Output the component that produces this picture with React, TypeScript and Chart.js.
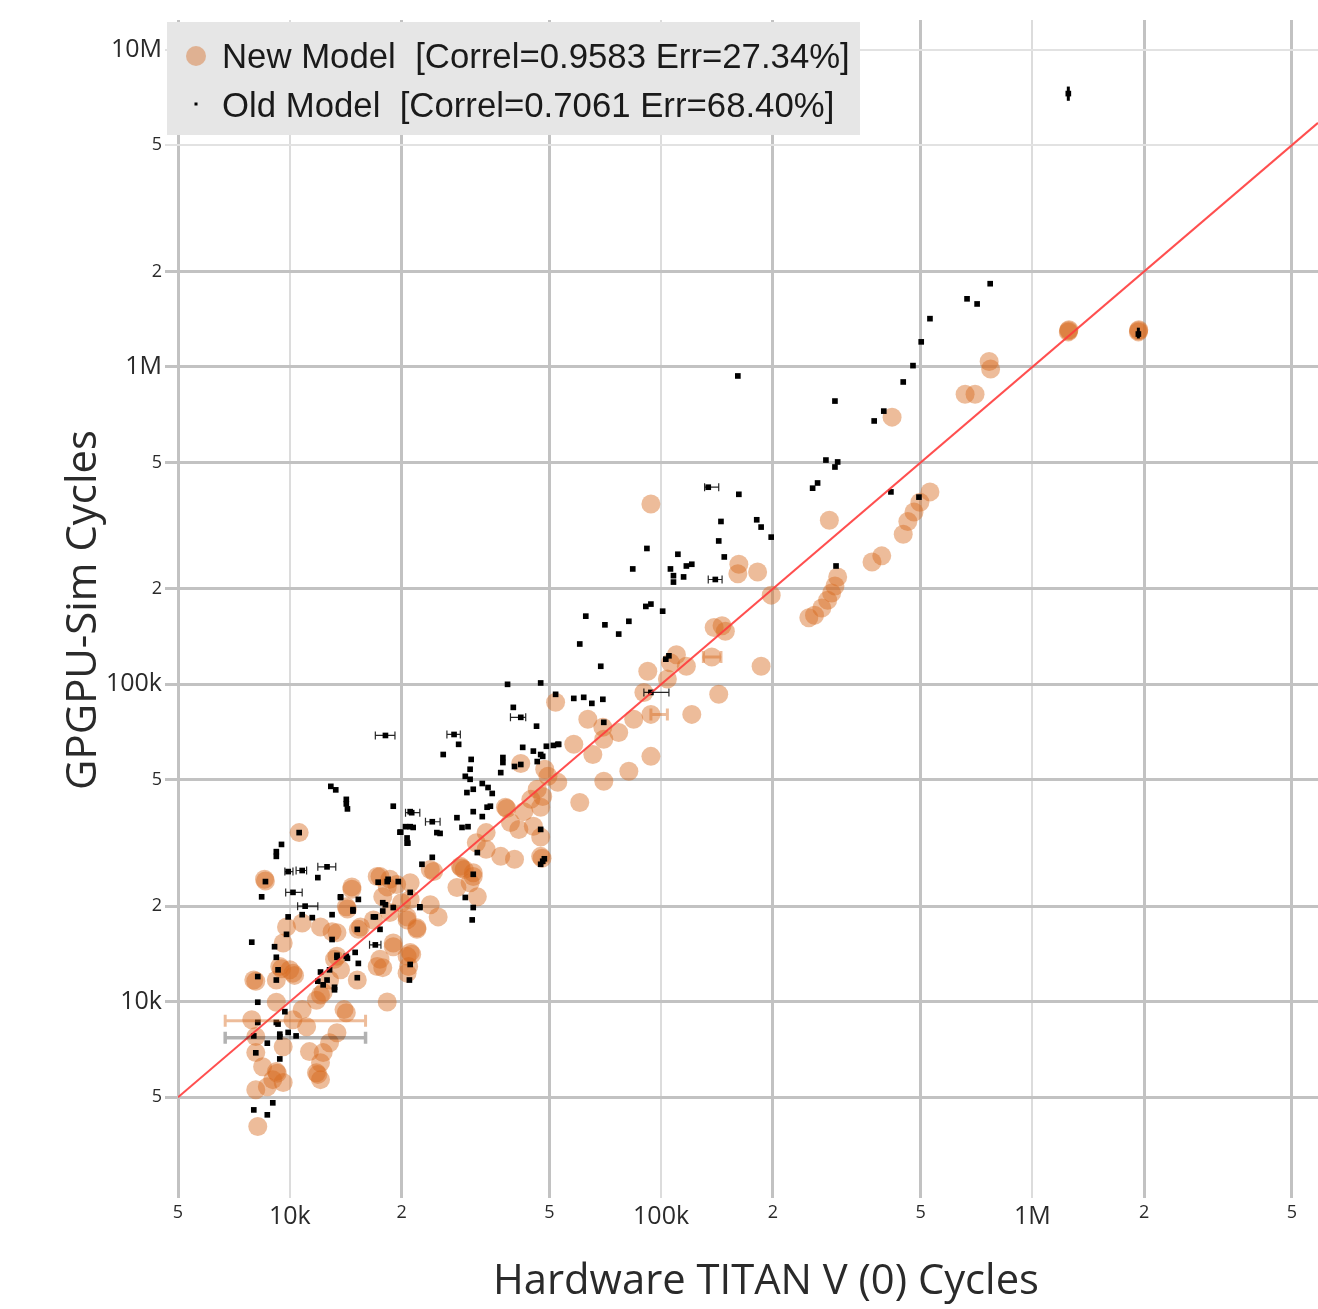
import React, { useEffect, useRef } from 'react';
import { Chart, registerables } from 'chart.js';
Chart.register(...registerables);

// ---- data (values in thousands of cycles) ----
// New model: hardware cycles (x) and simulated cycles (y)
const newHw = [
  1250, 1255, 1252, 1930, 1935, 1932, 765, 772, 659, 701, 419,
  530, 498, 480, 462, 449, 393, 370, 284,
  299, 294, 288, 281, 271, 259, 250, 198,
  162, 161, 182, 139, 146, 149, 137, 186, 143, 121, 93.9,
  92.1, 106, 110, 117, 104, 89.9, 93.9, 52.0, 63.5, 69.7, 70.1, 76.9, 84.4, 58.2, 65.5, 93.9, 81.9, 70.1, 60.4,
  41.9, 48.6, 49.6, 52.7, 46.4, 48.0, 44.6, 38.1, 38.4, 42.7, 47.4, 39.3, 41.4, 45.3, 47.4, 33.8, 31.8, 33.8, 37.0, 40.3, 47.4, 47.8,
  28.8, 29.0, 31.2, 23.9, 29.5, 31.2, 30.6, 28.2, 32.0,
  17.5, 18.6, 19.4, 14.7, 14.2, 14.3, 17.8, 21.1, 20.0, 23.9, 25.1, 20.7, 22.0, 15.5, 13.4, 19.0, 21.1, 21.3, 17.5, 17.8, 20.9, 15.2, 20.7, 13.4, 18.3, 14.0,
  10.6, 8.55, 8.6, 14.7, 17.2, 18.3, 21.1, 24.4, 13.0, 12.1, 10.8, 9.8, 9.6, 15.3, 16.8, 18.6, 20.7, 22.0, 20.7, 19.0, 17.2, 13.2, 13.7, 12.8, 12.3, 9.4, 9.5, 10.2, 10.3, 9.2, 10.0, 8.0, 8.1,
  9.2, 7.9, 10.2, 10.8, 11.8, 12.1, 14.2, 11.1, 13.4, 12.8, 12.3, 12.1, 11.8, 11.9, 12.1, 11.3, 8.1, 9.6, 8.1, 8.45, 9.2, 9.25, 9.0, 9.6, 8.1, 8.7, 8.2,
];
const newSim = [
  1290, 1310, 1300, 1290, 1310, 1300, 1040, 985, 820, 820, 695,
  404, 375, 349, 326, 297, 254, 243, 329,
  218, 204, 194, 184, 174, 165, 162, 191,
  239, 223, 226, 151, 153, 147, 122, 114, 93, 80.4, 370,
  110, 117, 124, 114, 104, 94.3, 80.4, 87.8, 77.6, 73.2, 67.1, 70.5, 77.6, 64.7, 60.1, 59.3, 53.2, 49.5, 42.4,
  56.3, 54.0, 51.3, 49.1, 46.7, 44.3, 43.4, 41.0, 40.6, 39.7, 41.0, 36.7, 34.9, 35.7, 33.0, 34.1, 31.7, 30.2, 28.7, 28.1, 28.7, 28.3,
  26.7, 26.4, 25.5, 26.1, 26.1, 24.8, 23.7, 22.9, 21.4,
  24.8, 24.3, 23.4, 23.0, 19.9, 19.6, 21.4, 21.0, 20.5, 20.2, 18.5, 18.1, 17.1, 17.2, 16.5, 15.3, 14.3, 14.1, 13.6, 12.8, 12.9, 11.7, 12.3, 13.9, 9.98, 9.44,
  34.1, 24.3, 24.0, 22.6, 24.8, 23.0, 23.7, 25.7, 16.6, 17.2, 17.7, 17.2, 15.3, 16.9, 18.1, 19.1, 18.5, 16.9, 13.9, 14.9, 12.9, 13.6, 12.6, 11.7, 10.7, 12.9, 12.7, 12.3, 12.1, 11.7, 12.6, 11.7, 11.6,
  9.96, 8.77, 8.77, 9.44, 10.1, 10.5, 9.23, 8.34, 7.98, 7.42, 6.91, 6.42, 5.97, 5.9, 5.68, 6.96, 7.76, 7.21, 6.91, 6.24, 6.02, 5.95, 5.68, 5.56, 5.28, 5.39, 4.04,
];

// Old model: hardware cycles (x) and simulated cycles (y)
const oldHw = [
  1250, 1930, 770, 667, 710, 530, 502, 477, 449, 398, 375, 161, 294,
  278, 294, 299, 256, 264, 416, 495, 296, 134, 162, 145, 181, 186, 198, 143,
  91.6, 111, 117, 121, 148, 106, 108, 108, 115, 83.9, 140, 91.0, 93.9, 101,
  62.7, 70.6, 81.9, 76.9, 60.4, 68.8, 103, 105, 47.4, 52.0, 58.2, 61.9, 65.1, 69.7, 93.9, 70.1, 53.0, 51.3, 47.4,
  38.6, 40.0, 41.9, 46.2, 27.7, 28.5, 25.9, 30.8, 30.6, 29.7, 30.6, 37.5, 37.5, 40.3, 41.9, 42.4, 45.3, 46.4, 48.0, 49.1, 52.7,
  37.0, 33.0, 34.2, 35.1, 30.0, 31.2, 34.0, 34.7, 31.2, 33.0, 21.3, 24.2, 25.4, 28.2, 29.1, 30.2, 20.5, 21.1, 21.5, 20.7, 19.8, 32.0, 47.4, 48.0, 47.4, 48.5, 31.2, 22.7, 24.2,
  29.7, 31.2, 31.0, 17.3, 18.3, 19.6, 21.1, 13.7, 15.3, 14.8, 18.1, 19.0, 17.8, 17.0, 17.5, 22.4, 17.0, 13.0, 13.0, 15.0, 14.3, 13.4, 12.8, 13.2, 21.1, 21.0,
  19.0, 21.1, 19.9, 20.7, 20.8, 10.6, 9.5, 9.2, 9.2, 9.9, 10.8, 12.6, 11.9, 8.6, 8.4, 10.2, 11.0, 13.7, 14.8,
  9.9, 10.8, 11.5, 7.9, 9.1, 9.8, 13.4, 15.2, 14.2, 15.3, 15.2, 17.8, 16.8, 18.4, 22.4, 24.9, 9.2, 9.3, 9.2, 8.2,
  12.1, 11.9, 12.3, 12.6, 13.2, 8.2, 9.7, 9.2, 9.3, 8.2, 9.9, 10.4, 9.4, 9.4, 8.0, 8.7, 8.1, 9.4, 9.0, 8.0, 8.7,
  12.9, 13.3, 14.2, 14.3, 18.1, 14.2,
];
const oldSim = [
  7270, 1270, 1830, 1640, 1580, 1420, 1200, 1010, 897, 726, 676, 937, 781,
  509, 484, 502, 415, 431, 404, 389, 236, 418, 397, 326, 330, 313, 291, 283,
  268, 257, 236, 239, 252, 231, 220, 210, 218, 231, 214, 176, 179, 170,
  164, 154, 158, 144, 134, 114, 120, 123, 101, 93.0, 90.3, 91.0, 87.1, 89.7, 94.3, 75.9, 64.7, 64.2, 60.1,
  100, 84.6, 78.7, 73.8, 69.5, 64.7, 60.1, 58.0, 54.0, 51.3, 50.2, 58.8, 56.7, 55.1, 55.9, 63.3, 61.6, 57.1, 59.3, 63.8, 64.7,
  52.7, 48.7, 47.3, 45.3, 45.6, 46.7, 41.0, 41.3, 39.7, 38.3, 39.4, 36.9, 33.9, 38.0, 35.4, 35.6, 35.6, 35.6, 35.4, 31.6, 34.2, 29.5, 34.9, 27.7, 27.1, 28.2, 25.2, 27.1, 28.5,
  21.3, 19.8, 18.1, 23.8, 23.9, 23.9, 22.1, 21.4, 21.0, 19.5, 20.2, 19.8, 19.3, 18.5, 16.9, 19.8, 15.1, 18.8, 15.7, 14.3, 13.7, 13.8, 12.6, 10.9, 13.1, 11.7,
  41.3, 39.7, 34.2, 32.8, 31.6, 34.1, 31.3, 29.7, 28.7, 25.7, 25.9, 26.6, 24.6, 23.9, 21.4, 22.1, 20.0, 21.3, 19.3,
  18.5, 18.8, 18.4, 15.4, 14.9, 16.3, 14.0, 16.9, 13.9, 13.2, 11.9, 20.5, 18.5, 24.3, 19.9, 34.1, 13.8, 12.6, 11.7, 12.0,
  12.4, 11.6, 11.3, 11.7, 11.1, 9.96, 9.3, 8.6, 8.5, 8.6, 8.0, 7.8, 7.9, 7.75, 7.8, 7.4, 6.9, 6.6, 4.8, 4.56, 4.4,
  47.7, 46.5, 43.4, 40.5, 69.0, 42.0,
];

// Horizontal error bars [y, xLow, xHigh] (thousands)
const oldErrBars = [
  [418, 131, 143], [69.0, 17.0, 19.2], [69.5, 26.5, 28.8], [78.7, 39.3, 43.2], [214, 134, 146],
  [94.3, 89.9, 105], [36.9, 23.2, 25.4], [39.4, 20.5, 22.4], [26.6, 11.9, 13.3], [25.7, 9.7, 10.2],
  [25.9, 10.4, 11.1], [22.1, 9.75, 10.8], [20.0, 10.5, 11.9], [15.1, 16.4, 17.6],
];
// Vertical error bars [x, yLow, yHigh] (thousands)
const oldVertBars = [[1250, 6900, 7650], [1930, 1230, 1330]];
const oldWideBars = [[7.7, 6.7, 16.0]];
const newErrBars = [[80.4, 93.9, 104], [122, 130, 145], [8.7, 6.7, 16.0]];

const refLine = [5000, 5.88e6];
const xRange = [5000, 5.88e6];
const yRange = [2550, 12.4e6];
const xTicks = [5e3, 1e4, 2e4, 5e4, 1e5, 2e5, 5e5, 1e6, 2e6, 5e6];
const xTickLabels = ['5', '10k', '2', '5', '100k', '2', '5', '1M', '2', '5'];
const yTicks = [5e3, 1e4, 2e4, 5e4, 1e5, 2e5, 5e5, 1e6, 2e6, 5e6, 1e7];
const yTickLabels = ['5', '10k', '2', '5', '100k', '2', '5', '1M', '2', '5', '10M'];

const legendLabels = ['New Model  [Correl=0.9583 Err=27.34%]', 'Old Model  [Correl=0.7061 Err=68.40%]'];
const xTitle = 'Hardware TITAN V (0) Cycles';
const yTitle = 'GPGPU-Sim Cycles';

const ORANGE = 'rgba(214,106,30,0.45)';
const TICKFONT = '"Open Sans", "Noto Sans", sans-serif';

function pts(xs: number[], ys: number[]) {
  const n = Math.min(xs.length, ys.length);
  const out: { x: number; y: number }[] = [];
  for (let i = 0; i < n; i++) out.push({ x: xs[i] * 1000, y: ys[i] * 1000 });
  return out;
}

function fit(ctx: CanvasRenderingContext2D, text: string, family: string, width: number) {
  ctx.font = `40px ${family}`;
  const w = ctx.measureText(text).width;
  return (40 * width) / w;
}

const overlay = {
  id: 'overlay',
  afterDatasetsDraw(chart: any) {
    const { ctx, scales } = chart;
    const xs = scales.x, ys = scales.y;
    ctx.save();
    const bar = (b: number[], color: string, lw: number, cap: number) => {
      const y = ys.getPixelForValue(b[0] * 1000);
      const x1 = xs.getPixelForValue(b[1] * 1000);
      const x2 = xs.getPixelForValue(b[2] * 1000);
      ctx.strokeStyle = color;
      ctx.lineWidth = lw;
      ctx.beginPath();
      ctx.moveTo(x1, y); ctx.lineTo(x2, y);
      ctx.moveTo(x1, y - cap); ctx.lineTo(x1, y + cap);
      ctx.moveTo(x2, y - cap); ctx.lineTo(x2, y + cap);
      ctx.stroke();
    };
    newErrBars.forEach((b) => bar(b, 'rgba(214,106,30,0.45)', 3, 6));
    oldWideBars.forEach((b) => bar(b, 'rgba(0,0,0,0.3)', 3.5, 6));
    oldErrBars.forEach((b) => bar(b, 'rgba(0,0,0,0.85)', 1.2, 4));
    oldVertBars.forEach((b) => {
      const x = xs.getPixelForValue(b[0] * 1000);
      const y1 = ys.getPixelForValue(b[1] * 1000);
      const y2 = ys.getPixelForValue(b[2] * 1000);
      ctx.strokeStyle = '#000';
      ctx.lineWidth = 3;
      ctx.beginPath();
      ctx.moveTo(x, y1); ctx.lineTo(x, y2);
      ctx.stroke();
    });
    ctx.restore();
  },
  afterDraw(chart: any) {
    const { ctx } = chart;
    ctx.save();
    // legend box
    ctx.fillStyle = '#e6e6e6';
    ctx.fillRect(167, 22, 693, 113);
    ctx.fillStyle = 'rgba(214,106,30,0.42)';
    ctx.beginPath();
    ctx.arc(196, 56, 10, 0, Math.PI * 2);
    ctx.fill();
    ctx.fillStyle = '#000';
    ctx.fillRect(194.5, 102.5, 3, 3);
    const lfam = '"Liberation Sans", Arial, sans-serif';
    const ls = fit(ctx, legendLabels[0], lfam, 628);
    ctx.font = `${ls}px ${lfam}`;
    ctx.fillStyle = '#1a1a1a';
    ctx.textBaseline = 'middle';
    ctx.textAlign = 'left';
    ctx.fillText(legendLabels[0], 222, 58);
    ctx.fillText(legendLabels[1], 222, 107);
    // axis titles
    ctx.fillStyle = '#2a2a2a';
    const xsz = fit(ctx, xTitle, TICKFONT, 546);
    ctx.font = `${xsz}px ${TICKFONT}`;
    ctx.textAlign = 'center';
    ctx.fillText(xTitle, 766, 1282);
    const ysz = fit(ctx, yTitle, TICKFONT, 360);
    ctx.font = `${ysz}px ${TICKFONT}`;
    ctx.translate(84, 610);
    ctx.rotate(-Math.PI / 2);
    ctx.fillText(yTitle, 0, 0);
    ctx.restore();
  },
};

export default function App() {
  const ref = useRef<HTMLCanvasElement | null>(null);
  useEffect(() => {
    document.body.style.margin = '0';
    const canvas = ref.current!;
    const chart = new Chart(canvas, {
      type: 'scatter',
      data: {
        datasets: [
          {
            type: 'line',
            label: 'y=x',
            data: refLine.map((v) => ({ x: v, y: v })),
            borderColor: 'rgba(255,60,60,0.9)',
            borderWidth: 2,
            pointRadius: 0,
            fill: false,
            order: 0,
          } as any,
          {
            label: 'Old Model',
            data: pts(oldHw, oldSim),
            pointStyle: 'rect',
            pointRadius: 4,
            backgroundColor: '#000',
            borderWidth: 0,
            order: 1,
          },
          {
            label: 'New Model',
            data: pts(newHw, newSim),
            pointRadius: 9.5,
            backgroundColor: ORANGE,
            borderWidth: 0,
            order: 2,
          },
        ],
      },
      options: {
        responsive: false,
        animation: false,
        devicePixelRatio: 1,
        layout: { autoPadding: false, padding: { top: 20, right: 0, left: 0, bottom: 0 } },
        plugins: { legend: { display: false }, tooltip: { enabled: false } },
        scales: {
          x: {
            type: 'logarithmic',
            min: xRange[0],
            max: xRange[1],
            afterBuildTicks: (s: any) => { s.ticks = xTicks.map((v) => ({ value: v })); },
            afterFit: (s: any) => { s.height = 119; s.paddingLeft = 0; s.paddingRight = 0; },
            ticks: {
              autoSkip: false,
              maxRotation: 0,
              padding: 4,
              color: '#2a2a2a',
              font: (c: any) => ({ family: TICKFONT, size: xTickLabels[c.index]?.length > 1 ? 25 : 18 }),
              callback: (_v: any, i: number) => xTickLabels[i],
            },
            grid: {
              color: (c: any) => ([1e4, 1e5, 1e6].includes(c.tick?.value) ? '#dcdcdc' : '#c2c2c2'),
              lineWidth: (c: any) => ([1e4, 1e5, 1e6].includes(c.tick?.value) ? 2 : 3),
              tickLength: 8,
            },
            border: { display: false },
          },
          y: {
            type: 'logarithmic',
            min: yRange[0],
            max: yRange[1],
            afterBuildTicks: (s: any) => { s.ticks = yTicks.map((v) => ({ value: v })); },
            afterFit: (s: any) => { s.width = 178; s.paddingTop = 0; s.paddingBottom = 0; },
            ticks: {
              autoSkip: false,
              padding: 3,
              color: '#2a2a2a',
              font: (c: any) => ({ family: TICKFONT, size: yTickLabels[c.index]?.length > 1 ? 25 : 18 }),
              callback: (_v: any, i: number) => yTickLabels[i],
            },
            grid: {
              color: (c: any) => ([5e6, 1e7].includes(c.tick?.value) ? '#e2e2e2' : '#c2c2c2'),
              lineWidth: (c: any) => ([5e6, 1e7].includes(c.tick?.value) ? 2 : 3),
              tickLength: 13,
            },
            border: { display: false },
          },
        },
      },
      plugins: [overlay],
    } as any);
    return () => chart.destroy();
  }, []);
  return (
    <div style={{ width: 1318, height: 1309 }}>
      <canvas ref={ref} width={1318} height={1309} style={{ display: 'block' }} />
    </div>
  );
}
